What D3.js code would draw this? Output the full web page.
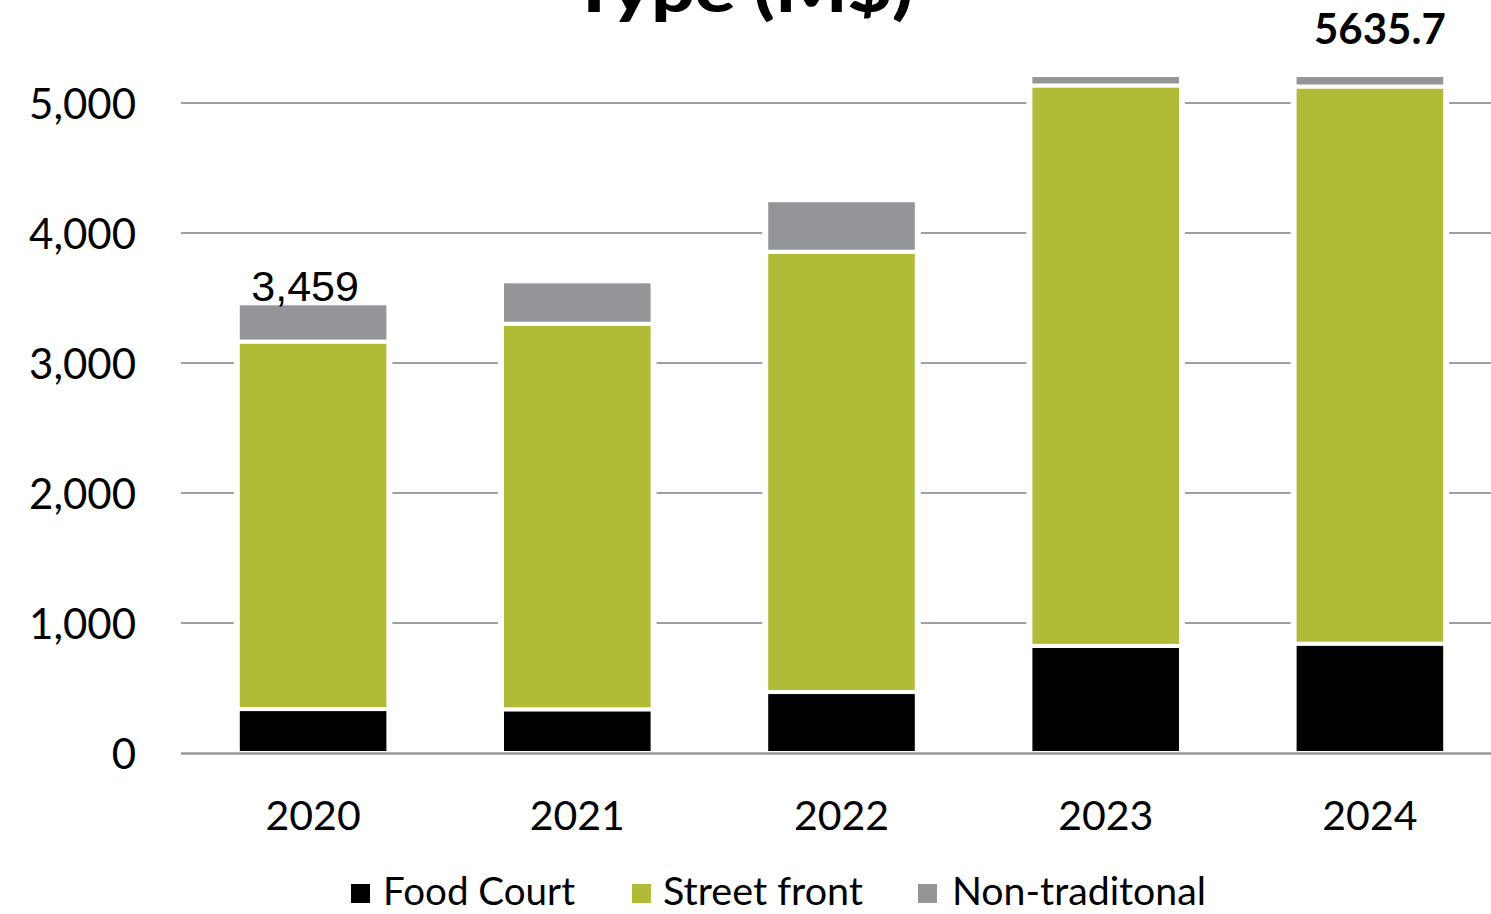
<!DOCTYPE html>
<html>
<head>
<meta charset="utf-8">
<script src="https://cdn.jsdelivr.net/npm/d3@7"></script>
<style>
  html, body { margin: 0; padding: 0; background: #fff; }
  svg { display: block; }
</style>
</head>
<body>
<svg id="chart" width="1491" height="914"></svg>
<script>
// Revenue by store type, millions of dollars
const years = ["2020", "2021", "2022", "2023", "2024"];
const foodCourt = [338, 336, 469, 824, 841];
const streetFront = [2827, 2966, 3387, 4311, 4286];
const nonTraditional = [294, 326, 396, 80, 88];
const seriesNames = ["Food Court", "Street front", "Non-traditonal"];
const seriesColors = ["#000000", "#b0bc38", "#939598"];
const yTicks = [0, 1000, 2000, 3000, 4000, 5000];
const totalLabel2020 = "3,459";
const headlineTotal = "5635.7";
const titleText = "Type (M$)";

const svg = d3.select("#chart");
const W = 1491, H = 914;
const margin = { left: 181, right: -11, top: 103 - 0, bottom: 914 - 753 };

const x = d3.scaleBand()
  .domain(years)
  .range([181, 1502])
  .paddingInner(0.43)
  .paddingOuter(0.215);

const y = d3.scaleLinear()
  .domain([0, 5000])
  .range([753, 103]);

const rows = years.map((yr, i) => ({
  year: yr,
  "Food Court": foodCourt[i],
  "Street front": streetFront[i],
  "Non-traditonal": nonTraditional[i]
}));
const stack = d3.stack().keys(seriesNames)(rows);
const color = d3.scaleOrdinal().domain(seriesNames).range(seriesColors);

// Gridlines
const grid = svg.append("g");
grid.selectAll("line")
  .data(yTicks.filter(t => t > 0))
  .join("line")
  .attr("x1", 181).attr("x2", W)
  .attr("y1", d => y(d)).attr("y2", d => y(d))
  .attr("stroke", "#a0a0a0")
  .attr("stroke-width", 2);

// White knock-out behind each stack so gridlines stop short of the bars
svg.append("g").selectAll("rect")
  .data(rows)
  .join("rect")
  .attr("x", d => x(d.year) - 4)
  .attr("width", x.bandwidth() + 8)
  .attr("y", (d, i) => y(foodCourt[i] + streetFront[i] + nonTraditional[i]) - 2)
  .attr("height", (d, i) => y(0) - y(foodCourt[i] + streetFront[i] + nonTraditional[i]) + 2)
  .attr("fill", "#fff");

// Stacked bars
svg.append("g").selectAll("g")
  .data(stack)
  .join("g")
  .attr("fill", d => color(d.key))
  .selectAll("rect")
  .data(d => d)
  .join("rect")
  .attr("x", d => x(d.data.year))
  .attr("width", x.bandwidth())
  .attr("y", d => y(d[1]))
  .attr("height", d => y(d[0]) - y(d[1]))
  .attr("stroke", "#fff")
  .attr("stroke-width", 4);

// Baseline
svg.append("line")
  .attr("x1", 181).attr("x2", W)
  .attr("y1", y(0) + 0.5).attr("y2", y(0) + 0.5)
  .attr("stroke", "#9a9a9a")
  .attr("stroke-width", 2.5);

// Y axis labels
const yAxis = d3.axisLeft(y)
  .tickValues(yTicks)
  .tickFormat(d3.format(","))
  .tickSize(0)
  .tickPadding(0);
const yg = svg.append("g").attr("transform", "translate(136,0)").call(yAxis);
yg.select(".domain").remove();
yg.selectAll("text")
  .attr("font-family", "Lato, 'Open Sans', sans-serif")
  .attr("font-size", 42)
  .attr("fill", "#000")
  .attr("dy", "0.36em");

// X axis labels
const xAxis = d3.axisBottom(x).tickSize(0).tickPadding(0);
const xg = svg.append("g").attr("transform", "translate(0,800)").call(xAxis);
xg.select(".domain").remove();
xg.selectAll("text")
  .attr("font-family", "Lato, 'Open Sans', sans-serif")
  .attr("font-size", 41)
  .attr("fill", "#000")
  .attr("dy", "0.73em");

// Total label above the 2020 bar
svg.append("text")
  .attr("x", x("2020") + x.bandwidth() / 2 - 8)
  .attr("y", y(foodCourt[0] + streetFront[0] + nonTraditional[0]) - 2)
  .attr("text-anchor", "middle")
  .attr("font-family", "'Liberation Sans', Arial, sans-serif")
  .attr("font-size", 43)
  .attr("fill", "#000")
  .text(totalLabel2020);

// Headline total for 2024
svg.append("text")
  .attr("x", x("2024") + x.bandwidth() / 2 + 10)
  .attr("y", 44)
  .attr("text-anchor", "middle")
  .attr("font-family", "Lato, 'Open Sans', sans-serif")
  .attr("font-weight", 700)
  .attr("font-size", 42)
  .attr("fill", "#000")
  .text(headlineTotal);

// Title (upper line falls outside the frame)
svg.append("text")
  .attr("x", 742)
  .attr("y", 12)
  .attr("text-anchor", "middle")
  .attr("font-family", "Lato, 'Open Sans', sans-serif")
  .attr("font-weight", 900)
  .attr("font-size", 62)
  .attr("textLength", 342)
  .attr("lengthAdjust", "spacingAndGlyphs")
  .attr("fill", "#000")
  .text(titleText);

// Legend
const legendItems = [
  { name: seriesNames[0], sx: 351, tx: 383, len: 192 },
  { name: seriesNames[1], sx: 632, tx: 663, len: 200 },
  { name: seriesNames[2], sx: 918, tx: 952, len: 254 }
];
const lg = svg.append("g");
lg.selectAll("rect")
  .data(legendItems)
  .join("rect")
  .attr("x", d => d.sx)
  .attr("y", 884)
  .attr("width", 19)
  .attr("height", 19)
  .attr("fill", d => color(d.name));
lg.selectAll("text")
  .data(legendItems)
  .join("text")
  .attr("x", d => d.tx)
  .attr("y", 905)
  .attr("font-family", "Lato, 'Open Sans', sans-serif")
  .attr("font-size", 38)
  .attr("textLength", d => d.len)
  .attr("lengthAdjust", "spacingAndGlyphs")
  .attr("fill", "#000")
  .text(d => d.name);
</script>
</body>
</html>
